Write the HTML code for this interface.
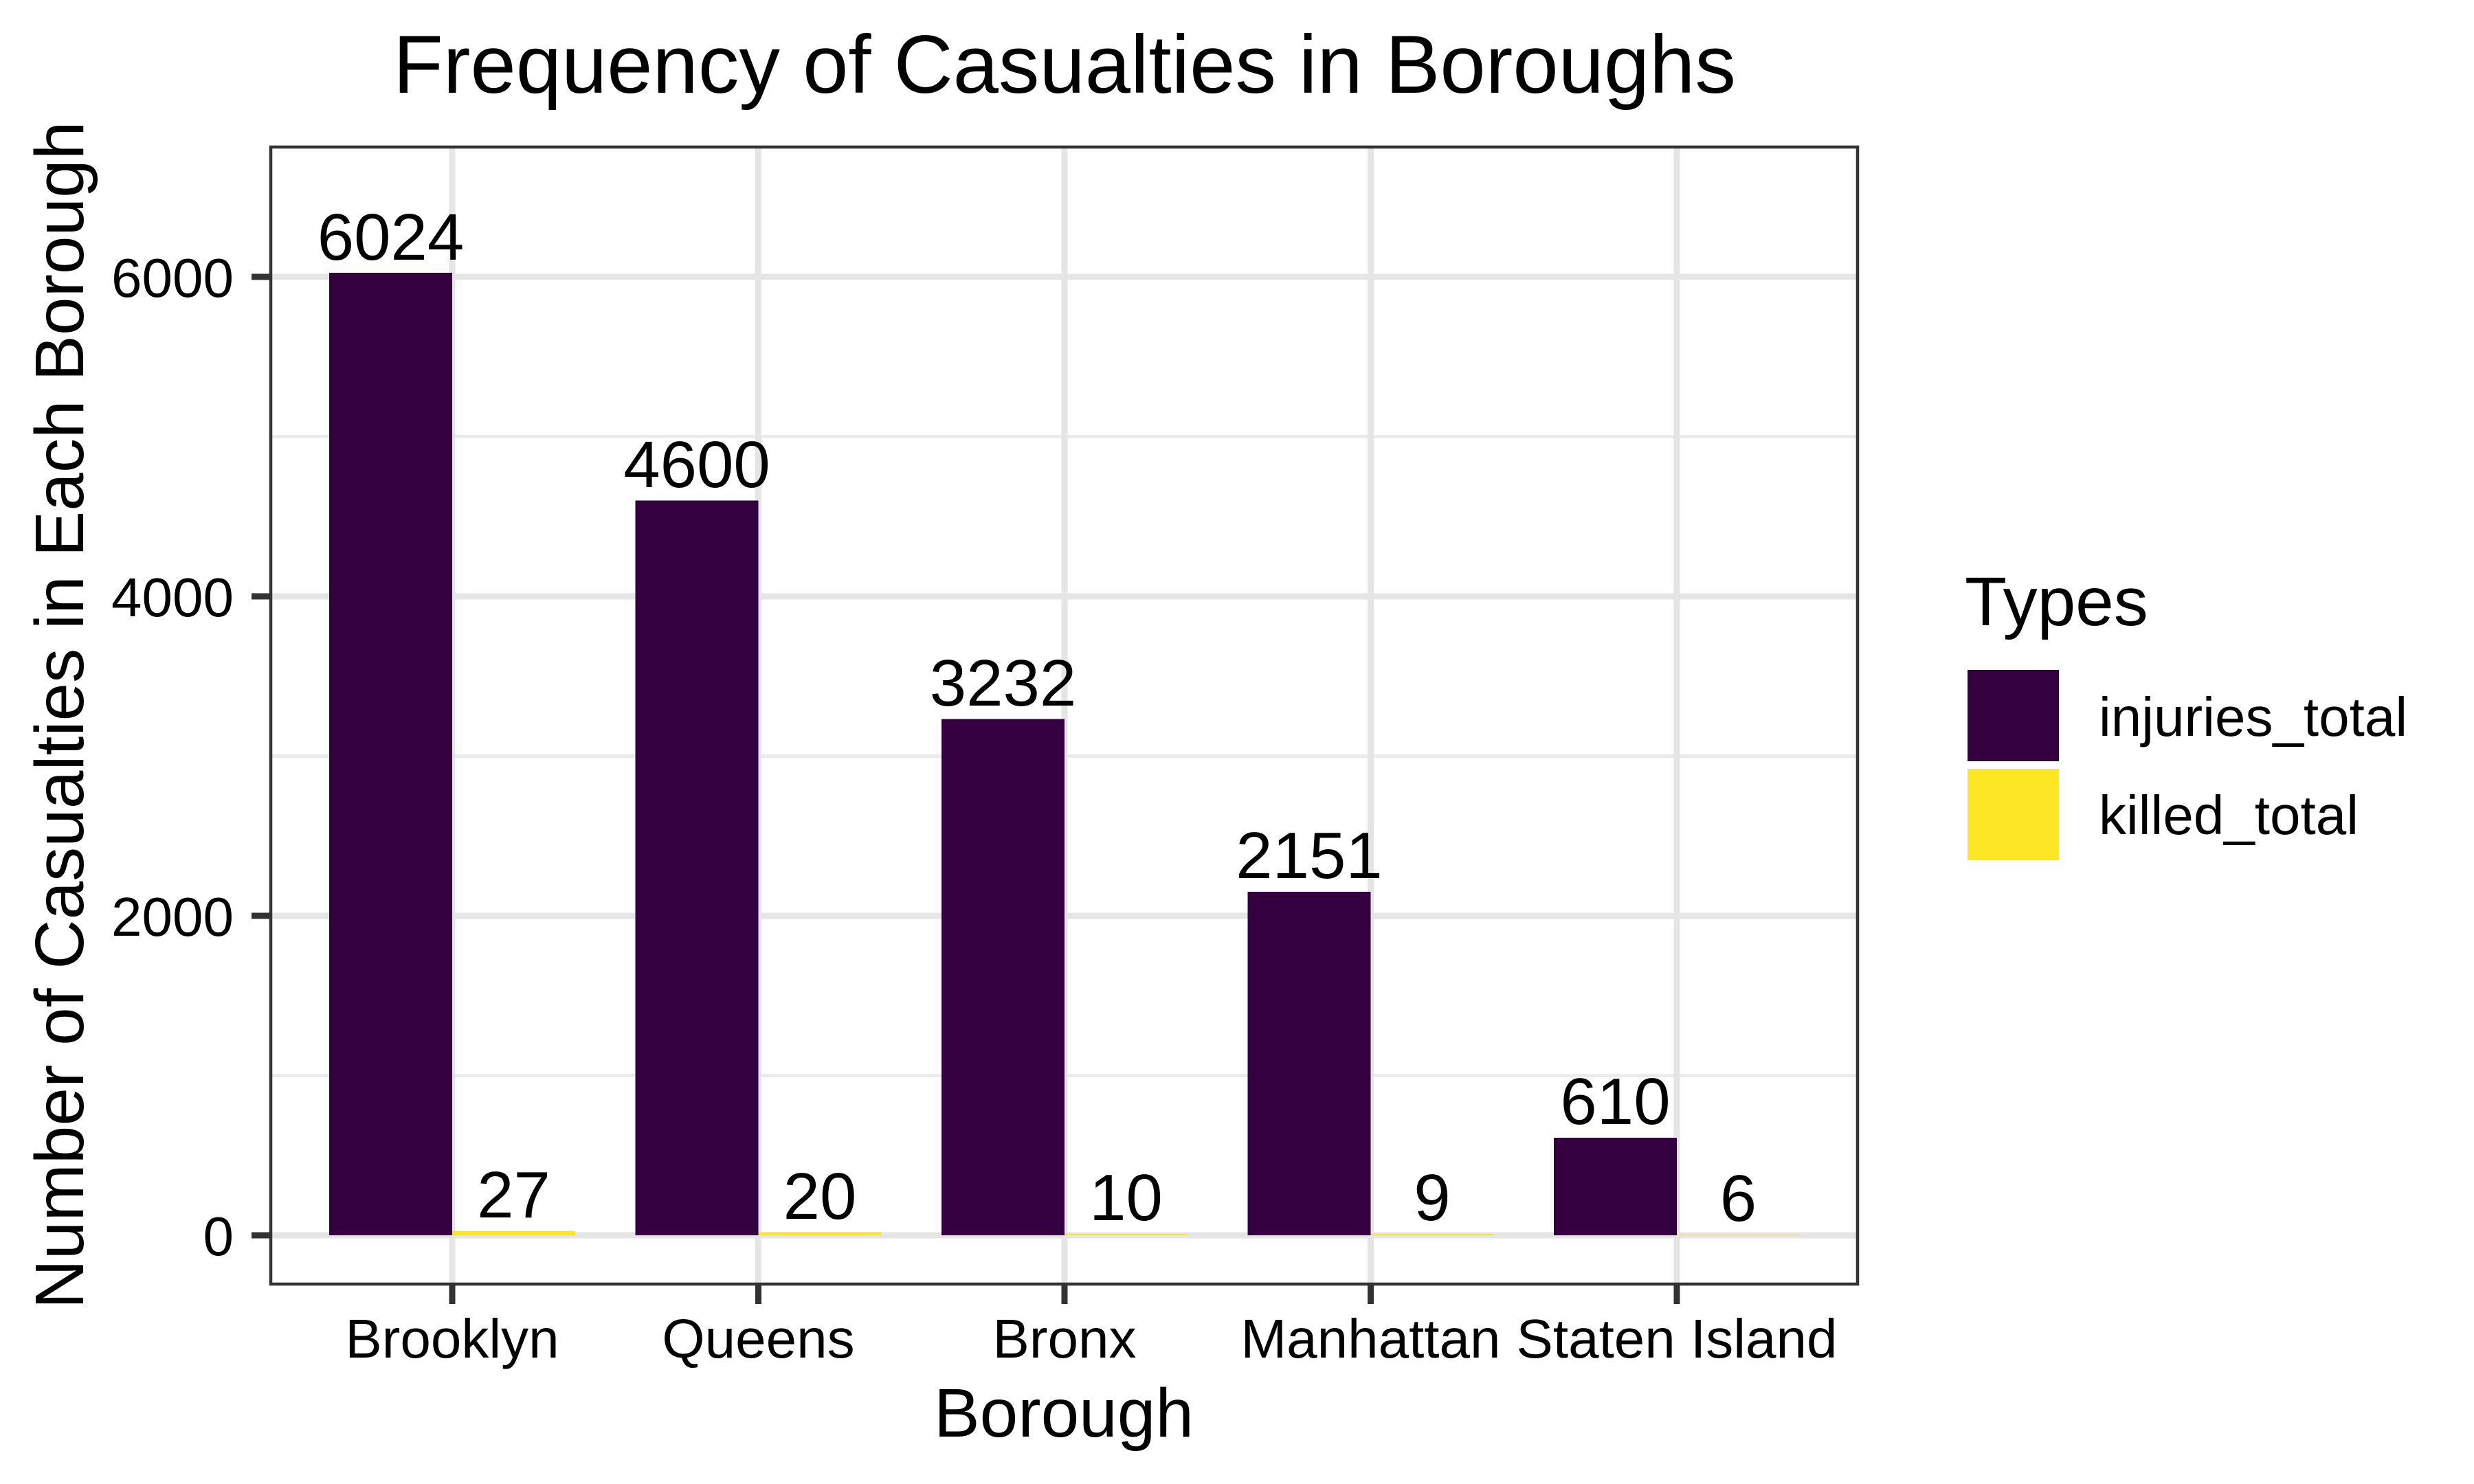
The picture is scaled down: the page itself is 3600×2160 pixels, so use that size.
<!DOCTYPE html>
<html><head><meta charset="utf-8"><style>html,body{margin:0;padding:0;background:#fff}svg{display:block}</style></head>
<body>
<svg width="3600" height="2160" viewBox="0 0 3600 2160" xmlns="http://www.w3.org/2000/svg" font-family="'Liberation Sans', Arial, sans-serif">
<rect width="3600" height="2160" fill="#fff"/>
<!-- minor gridlines -->
<g stroke="#ebebeb" stroke-width="5">
<line x1="392" x2="2705" y1="1565.5" y2="1565.5"/>
<line x1="392" x2="2705" y1="1100.5" y2="1100.5"/>
<line x1="392" x2="2705" y1="635.5" y2="635.5"/>
</g>
<!-- major gridlines -->
<g stroke="#e5e5e5" stroke-width="9">
<line x1="392" x2="2705" y1="1798" y2="1798"/>
<line x1="392" x2="2705" y1="1333" y2="1333"/>
<line x1="392" x2="2705" y1="868" y2="868"/>
<line x1="392" x2="2705" y1="403" y2="403"/>
<line x1="658" x2="658" y1="212" y2="1871"/>
<line x1="1103.5" x2="1103.5" y1="212" y2="1871"/>
<line x1="1549" x2="1549" y1="212" y2="1871"/>
<line x1="1994.5" x2="1994.5" y1="212" y2="1871"/>
<line x1="2440" x2="2440" y1="212" y2="1871"/>
</g>
<!-- bars -->
<g fill="#340040">
<rect x="479" y="397" width="179" height="1401"/>
<rect x="924.5" y="728.5" width="179" height="1069.5"/>
<rect x="1370" y="1046.6" width="179" height="751.4"/>
<rect x="1815.5" y="1298" width="179" height="500"/>
<rect x="2261" y="1656" width="179" height="142"/>
</g>
<g fill="#FDE725">
<rect x="658" y="1791.7" width="179" height="6.3"/>
<rect x="1103.5" y="1793.3" width="179" height="4.7"/>
<rect x="1549" y="1795.7" width="179" height="2.3"/>
<rect x="1994.5" y="1795.9" width="179" height="2.1"/>
<rect x="2440" y="1796.6" width="179" height="1.4"/>
</g>
<!-- value labels -->
<g font-size="96" text-anchor="middle" fill="#000">
<text x="568.5" y="378">6024</text>
<text x="1014" y="709">4600</text>
<text x="1459.5" y="1027">3232</text>
<text x="1905" y="1278">2151</text>
<text x="2350.5" y="1636">610</text>
<text x="747.5" y="1772">27</text>
<text x="1193" y="1774">20</text>
<text x="1638.5" y="1776">10</text>
<text x="2084" y="1776">9</text>
<text x="2529.5" y="1777">6</text>
</g>
<!-- panel border -->
<rect x="394" y="214" width="2309" height="1655" fill="none" stroke="#333" stroke-width="4.5"/>
<!-- ticks -->
<g stroke="#333" stroke-width="9">
<line x1="366" x2="392" y1="1798" y2="1798"/>
<line x1="366" x2="392" y1="1333" y2="1333"/>
<line x1="366" x2="392" y1="868" y2="868"/>
<line x1="366" x2="392" y1="403" y2="403"/>
<line x1="658" x2="658" y1="1871" y2="1898"/>
<line x1="1103.5" x2="1103.5" y1="1871" y2="1898"/>
<line x1="1549" x2="1549" y1="1871" y2="1898"/>
<line x1="1994.5" x2="1994.5" y1="1871" y2="1898"/>
<line x1="2440" x2="2440" y1="1871" y2="1898"/>
</g>
<g font-size="80" fill="#000" text-anchor="end">
<text x="340" y="1827">0</text>
<text x="340" y="1362">2000</text>
<text x="340" y="897">4000</text>
<text x="340" y="432">6000</text>
</g>
<g font-size="80" fill="#000" text-anchor="middle">
<text x="658" y="1976">Brooklyn</text>
<text x="1103.5" y="1976">Queens</text>
<text x="1549" y="1976">Bronx</text>
<text x="1994.5" y="1976">Manhattan</text>
<text x="2440" y="1976">Staten Island</text>
</g>
<text x="1548" y="2091" font-size="100" text-anchor="middle">Borough</text>
<text transform="translate(121,1041) rotate(-90)" font-size="100" text-anchor="middle">Number of Casualties in Each Borough</text>
<text x="1549" y="135" font-size="120" text-anchor="middle" textLength="1954" lengthAdjust="spacingAndGlyphs">Frequency of Casualties in Boroughs</text>
<!-- legend -->
<text x="2859" y="910" font-size="100">Types</text>
<rect x="2863" y="975" width="133" height="133" fill="#340040"/>
<rect x="2863" y="1119" width="133" height="133" fill="#FDE725"/>
<text x="3054" y="1071" font-size="80">injuries_total</text>
<text x="3054" y="1214" font-size="80">killed_total</text>
</svg>
</body></html>
